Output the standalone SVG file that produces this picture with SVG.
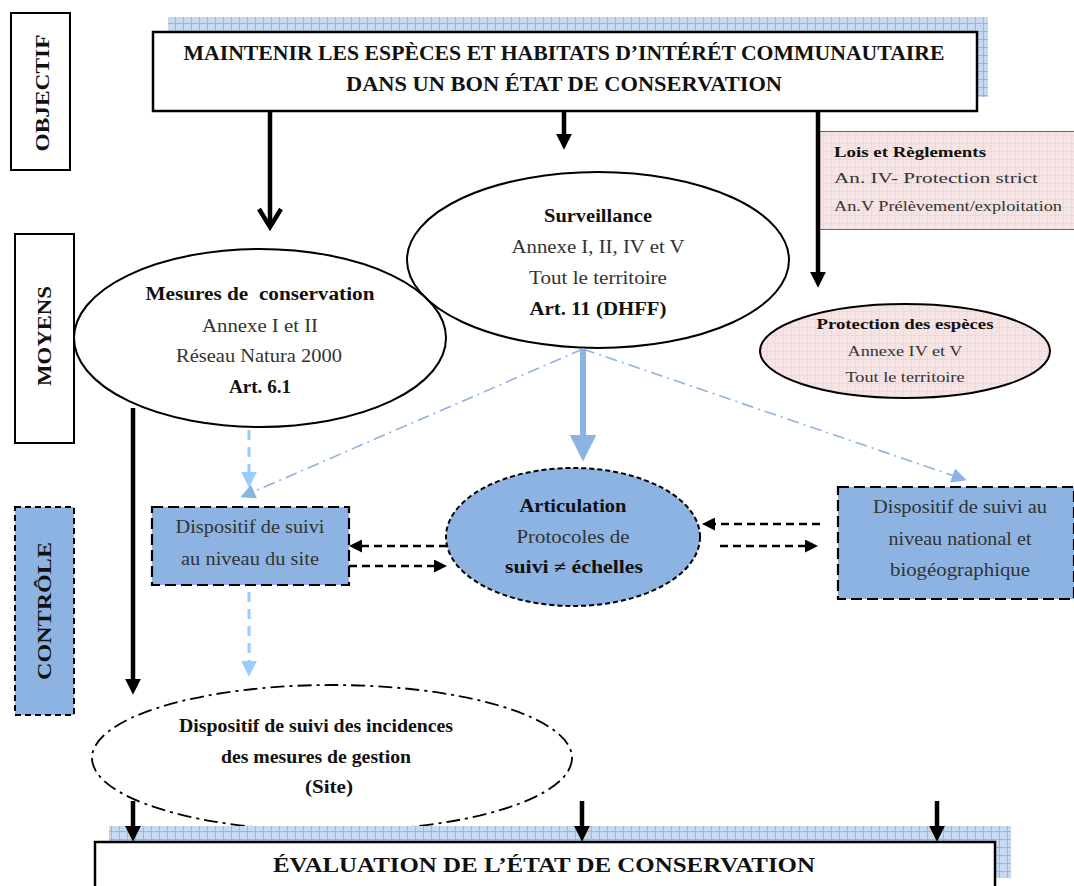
<svg xmlns="http://www.w3.org/2000/svg" width="1074" height="886" viewBox="0 0 1074 886">
<defs>
<style>
text{font-family:"Liberation Serif","Times New Roman",serif;fill:#333}
.b{font-weight:bold;fill:#111}
.t{font-size:18px}
.s{font-size:14.5px}
.h{font-size:20px;font-weight:bold;fill:#111}
.side{font-size:19.5px;font-weight:bold;fill:#111}
.ctr{text-anchor:middle}
.box{fill:#fff;stroke:#000;stroke-width:2.5}
.ell{fill:none;stroke:#000;stroke-width:2}
.blueFill{fill:#8DB3E2}
.dashBox{stroke:#000;stroke-width:2.2;stroke-dasharray:11 5}
.thick{stroke:#000;stroke-width:4.5;fill:none}
.bdash{stroke:#000;stroke-width:2.6;stroke-dasharray:8 5;fill:none}
.ldash{stroke:#99CCFF;stroke-width:3;stroke-dasharray:10 7;fill:none}
.dd{stroke:#8DB3E2;stroke-width:1.6;stroke-dasharray:12 5 2 5;fill:none}
</style>
<pattern id="gridBlue" width="8" height="8" patternUnits="userSpaceOnUse">
<rect width="8" height="8" fill="#C6D9F1"/>
<path d="M7.5 0V8M0 7.5H8" stroke="#95B3D7" stroke-width="0.9" fill="none"/>
</pattern>
<pattern id="gridPink" width="8" height="8" patternUnits="userSpaceOnUse">
<rect width="8" height="8" fill="#F5E4E3"/>
<path d="M7.5 0V8M0 7.5H8" stroke="#EDD3D2" stroke-width="0.7" fill="none"/>
</pattern>
<marker id="aBlack" viewBox="0 0 10 10" refX="2" refY="5" markerWidth="16" markerHeight="16" markerUnits="userSpaceOnUse" orient="auto"><path d="M0,0 L10,5 L0,10 z" fill="#000"/></marker>
<marker id="aDash" viewBox="0 0 10 10" refX="2" refY="5" markerWidth="13" markerHeight="13" markerUnits="userSpaceOnUse" orient="auto"><path d="M0,0 L10,5 L0,10 z" fill="#000"/></marker>
<marker id="aLight" viewBox="0 0 10 10" refX="2" refY="5" markerWidth="16" markerHeight="16" markerUnits="userSpaceOnUse" orient="auto"><path d="M0,0 L10,5 L0,10 z" fill="#99CCFF"/></marker>
<marker id="aBlue" viewBox="0 0 10 10" refX="2" refY="5" markerWidth="15" markerHeight="15" markerUnits="userSpaceOnUse" orient="auto"><path d="M0,0 L10,5 L0,10 z" fill="#8DB3E2"/></marker>
<marker id="aBlueBig" viewBox="0 0 10 10" refX="2" refY="5" markerWidth="27" markerHeight="27" markerUnits="userSpaceOnUse" orient="auto"><path d="M0,0 L10,5 L0,10 z" fill="#8DB3E2"/></marker>
</defs>
<rect width="1074" height="886" fill="#fff"/>

<g id="objectif">
<rect x="168" y="17" width="820" height="80" fill="url(#gridBlue)"/>
<rect class="box" x="153" y="32" width="824" height="79"/>
<text class="h ctr" x="564" y="60" textLength="761" lengthAdjust="spacingAndGlyphs">MAINTENIR LES ESPÈCES ET HABITATS D’INTÉRÉT COMMUNAUTAIRE</text>
<text class="h ctr" x="564" y="91" textLength="436" lengthAdjust="spacingAndGlyphs">DANS UN BON ÉTAT DE CONSERVATION</text>
</g>

<g id="label-objectif">
<rect x="11" y="13" width="59" height="157" fill="#fff" stroke="#000" stroke-width="2"/>
<text class="side ctr" transform="translate(49,93) rotate(-90)" textLength="117" lengthAdjust="spacingAndGlyphs">OBJECTIF</text>
</g>
<g id="label-moyens">
<rect x="15" y="234" width="59" height="209" fill="#fff" stroke="#000" stroke-width="2"/>
<text class="side ctr" transform="translate(51,336) rotate(-90)" textLength="100" lengthAdjust="spacingAndGlyphs">MOYENS</text>
</g>
<g id="label-controle">
<rect x="15" y="507" width="59" height="208" class="blueFill" stroke="#000" stroke-width="2" stroke-dasharray="6 4"/>
<text class="side ctr" transform="translate(51,611) rotate(-90)" textLength="138" lengthAdjust="spacingAndGlyphs">CONTRÔLE</text>
</g>

<g id="lois">
<rect x="820" y="131" width="256" height="99" fill="url(#gridPink)"/>
<path d="M820 131.5H1074M820 229.5H1074" stroke="#666" stroke-width="1.2"/>
<text class="s b" x="834" y="157" textLength="152" lengthAdjust="spacingAndGlyphs">Lois et Règlements</text>
<text class="s" x="834" y="183" textLength="204" lengthAdjust="spacingAndGlyphs">An. IV- Protection strict</text>
<text class="s" x="834" y="211" textLength="228" lengthAdjust="spacingAndGlyphs">An.V Prélèvement/exploitation</text>
</g>

<g id="protection">
<ellipse cx="905" cy="351" rx="145" ry="47" fill="url(#gridPink)" stroke="#000" stroke-width="2"/>
<text class="s b ctr" x="905" y="329" textLength="177" lengthAdjust="spacingAndGlyphs">Protection des espèces</text>
<text class="s ctr" x="905" y="356" textLength="115" lengthAdjust="spacingAndGlyphs">Annexe IV et V</text>
<text class="s ctr" x="905" y="382" textLength="119" lengthAdjust="spacingAndGlyphs">Tout le territoire</text>
</g>

<g id="mesures">
<ellipse class="ell" cx="260" cy="338" rx="186" ry="89"/>
<text class="t b ctr" x="260" y="300" textLength="229" lengthAdjust="spacingAndGlyphs">Mesures de&#160; conservation</text>
<text class="t ctr" x="260" y="332" textLength="116" lengthAdjust="spacingAndGlyphs">Annexe I et II</text>
<text class="t ctr" x="259" y="362" textLength="166" lengthAdjust="spacingAndGlyphs">Réseau Natura 2000</text>
<text class="t b ctr" x="260" y="393" textLength="62" lengthAdjust="spacingAndGlyphs">Art. 6.1</text>
</g>

<g id="surveillance">
<ellipse class="ell" cx="598" cy="260" rx="191" ry="88"/>
<text class="t b ctr" x="598" y="222" textLength="108" lengthAdjust="spacingAndGlyphs">Surveillance</text>
<text class="t ctr" x="598" y="253" textLength="173" lengthAdjust="spacingAndGlyphs">Annexe I, II, IV et V</text>
<text class="t ctr" x="598" y="284" textLength="138" lengthAdjust="spacingAndGlyphs">Tout le territoire</text>
<text class="t b ctr" x="598" y="315" textLength="137" lengthAdjust="spacingAndGlyphs">Art. 11 (DHFF)</text>
</g>

<g id="site">
<rect x="152" y="507" width="197" height="78" class="blueFill dashBox"/>
<text class="t ctr" x="250" y="533" textLength="149" lengthAdjust="spacingAndGlyphs">Dispositif de suivi</text>
<text class="t ctr" x="250" y="565" textLength="138" lengthAdjust="spacingAndGlyphs">au niveau du site</text>
</g>

<g id="articulation">
<ellipse cx="573" cy="537" rx="127" ry="69" class="blueFill" stroke="#000" stroke-width="2" stroke-dasharray="5 3"/>
<text class="t b ctr" x="573" y="512" textLength="107" lengthAdjust="spacingAndGlyphs">Articulation</text>
<text class="t ctr" x="573" y="543" textLength="113" lengthAdjust="spacingAndGlyphs">Protocoles de</text>
<text class="t b ctr" x="574" y="573" textLength="138" lengthAdjust="spacingAndGlyphs">suivi ≠ échelles</text>
</g>

<g id="national">
<rect x="838" y="487" width="236" height="112" class="blueFill dashBox"/>
<text class="t ctr" x="960" y="513" textLength="174" lengthAdjust="spacingAndGlyphs">Dispositif de suivi au</text>
<text class="t ctr" x="960" y="545" textLength="143" lengthAdjust="spacingAndGlyphs">niveau national et</text>
<text class="t ctr" x="960" y="576" textLength="140" lengthAdjust="spacingAndGlyphs">biogéographique</text>
</g>

<g id="incidences">
<ellipse cx="332" cy="758" rx="240" ry="73" fill="none" stroke="#000" stroke-width="1.8" stroke-dasharray="14 5 3 5"/>
<text class="t b ctr" x="316" y="732" textLength="274" lengthAdjust="spacingAndGlyphs">Dispositif de suivi des incidences</text>
<text class="t b ctr" x="316" y="763" textLength="190" lengthAdjust="spacingAndGlyphs">des mesures de gestion</text>
<text class="t b ctr" x="329" y="793" textLength="48" lengthAdjust="spacingAndGlyphs">(Site)</text>
</g>

<g id="evaluation">
<rect x="109" y="826" width="902" height="52" fill="url(#gridBlue)"/>
<rect class="box" x="95" y="842" width="900" height="60"/>
<text class="h ctr" x="544" y="872" style="font-size:21px" textLength="542" lengthAdjust="spacingAndGlyphs">ÉVALUATION DE L’ÉTAT DE CONSERVATION</text>
</g>

<g id="connectors">
<line class="thick" x1="270" y1="111" x2="270" y2="226"/>
<polyline points="259,209 270,227 281,209" fill="none" stroke="#000" stroke-width="4.5"/>
<line class="thick" x1="564" y1="111" x2="564" y2="137" marker-end="url(#aBlack)"/>
<line class="thick" x1="818" y1="111" x2="818" y2="275" marker-end="url(#aBlack)"/>
<line class="thick" x1="133" y1="408" x2="133" y2="682" marker-end="url(#aBlack)"/>
<line class="ldash" x1="249" y1="430" x2="249" y2="475" marker-end="url(#aLight)"/>
<line class="dd" x1="583" y1="349" x2="251.3" y2="492.6" marker-end="url(#aBlue)"/>
<line class="dd" x1="583" y1="349" x2="955.4" y2="476.4" marker-end="url(#aBlue)"/>
<line x1="583" y1="349" x2="583" y2="440" stroke="#8DB3E2" stroke-width="6" marker-end="url(#aBlueBig)"/>
<line class="bdash" x1="447" y1="546" x2="359.4" y2="546" marker-end="url(#aDash)"/>
<line class="bdash" x1="349" y1="566" x2="436.6" y2="566" marker-end="url(#aDash)"/>
<line class="bdash" x1="820" y1="524" x2="712.4" y2="524" marker-end="url(#aDash)"/>
<line class="bdash" x1="720" y1="546" x2="807.6" y2="546" marker-end="url(#aDash)"/>
<line class="ldash" x1="249" y1="592" x2="249" y2="664" marker-end="url(#aLight)"/>
<line class="thick" x1="133" y1="801" x2="133" y2="829" marker-end="url(#aBlack)"/>
<line class="thick" x1="582" y1="801" x2="582" y2="829" marker-end="url(#aBlack)"/>
<line class="thick" x1="937" y1="801" x2="937" y2="829" marker-end="url(#aBlack)"/>
</g>
</svg>
